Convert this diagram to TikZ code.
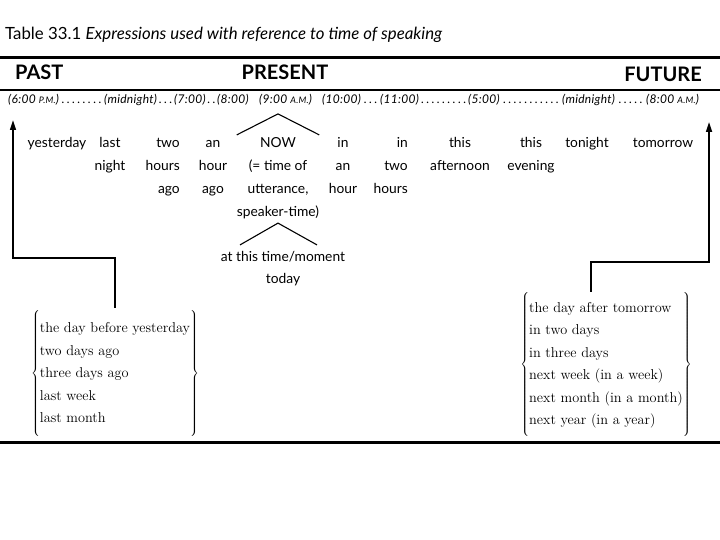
\documentclass[tikz,border=0pt]{standalone}
\usepackage{fontspec}
\setsansfont{Lato}
\usetikzlibrary{arrows.meta,calc}
\newcommand{\ampm}[1]{{\fontsize{9}{10}\selectfont #1}}
\newcommand{\bracepad}[1]{\vcenter{\hbox{\rule{0pt}{#1}}}}
\newcommand{\wordstack}[2][c]{\begin{tabular}[t]{@{}#1@{}}#2\end{tabular}}
\tikzset{
  tbl rule/.style={draw=black, line width=#1},
  tbl head/.style={font=\sffamily\bfseries\fontsize{20}{22}\selectfont, inner sep=0pt},
  tbl stamp/.style={font=\sffamily\itshape\fontsize{12}{13}\selectfont\addfontfeatures{LetterSpace=2.5}, inner sep=0pt, anchor=base west},
  tbl word/.style={font=\sffamily\fontsize{13.8}{22.7}\selectfont, inner sep=0pt, anchor=base},
  tbl list/.style={font=\rmfamily\fontsize{14.3}{22.5}\selectfont, inner sep=0pt},
  tbl arrow/.style={draw=black, line width=1.6pt, -{Triangle[length=10pt,width=6pt]}},
  tbl caret/.style={draw=black, line width=1.1pt},
}

\begin{document}
\begin{tikzpicture}[x=1pt, y=-1pt]
  \useasboundingbox[fill=white] (0,0) rectangle (720,540);
  % Caption and headings
  \node[anchor=base west, inner sep=0pt, font=\sffamily\fontsize{16.8}{19}\selectfont] (caption) at (5,40)
    {Table 33.1 \textit{Expressions used with reference to time of speaking}};
  \draw[tbl rule=2.5pt] (0,57.5) -- (720,57.5);
  \node[tbl head, anchor=base west] (past) at (15,80) {PAST};
  \node[tbl head, anchor=base] (present) at (285,80) {PRESENT};
  \node[tbl head, anchor=base east] (future) at (702,82) {FUTURE};
  \draw[tbl rule=1.5pt] (0,90) -- (720,90);

  % Clock times along the top
  \foreach \px/\stamp [count=\i] in {8/{(6:00 \ampm{P.M.})}, 104/{(midnight)}, 174/{(7:00)}, 217/{(8:00)},
      259/{(9:00 \ampm{A.M.})}, 322/{(10:00)}, 380/{(11:00)}, 468/{(5:00)}, 562/{(midnight)}, 646/{(8:00 \ampm{A.M.})}}
    \node[tbl stamp] (t\i) at (\px,104) {\stamp};
  \foreach \a/\b in {1/2,2/3,3/4,6/7,7/8,8/9,9/10}
    \path let \p1=(t\a.base east), \p2=(t\b.base west) in
      node[tbl stamp] at (\p1) {\makebox[\dimexpr\x2-\x1\relax]{\dotfill}};

  % Expressions, one column each
  \node[tbl word] (yest) at (57,148) {yesterday};
  \node[tbl word] (lastnight) at (110,148) {\wordstack{last\\night}};
  \node[tbl word, anchor=base east] (twohours) at (180,148) {\wordstack[r]{two\\hours\\ago}};
  \node[tbl word] (anhour) at (213,148) {\wordstack{an\\hour\\ago}};
  \node[tbl word] (now) at (278,148) {\wordstack{NOW\\(= time of\\utterance,\\speaker-time)}};
  \node[tbl word] (inanhour) at (343,148) {\wordstack{in\\an\\hour}};
  \node[tbl word, anchor=base east] (intwohours) at (408,148) {\wordstack[r]{in\\two\\hours}};
  \node[tbl word] (thisafternoon) at (460,148) {\wordstack{this\\afternoon}};
  \node[tbl word] (thisevening) at (531,148) {\wordstack{this\\evening}};
  \node[tbl word] (tonight) at (587,148) {tonight};
  \node[tbl word] (tomorrow) at (663,148) {tomorrow};
  \node[tbl word] (moment) at (283,261) {\wordstack{at this time/moment\\today}};

  % Carets round NOW
  \draw[tbl caret] ([yshift=-3pt]now.north west) -- ([yshift=18pt]now.north) -- ([yshift=-3pt]now.north east);
  \draw[tbl caret] ([xshift=-43pt]moment.north) -- (now.south) -- ([xshift=34pt]moment.north);

  % Braced lists
  \node[tbl list] (pastlist) at (115,373) {$\left\{\bracepad{130pt}\begin{tabular}{@{}l@{}}the day before yesterday\\two days ago\\three days ago\\last week\\last month\end{tabular}\right\}$};
  \node[tbl list] (futlist) at (606,364) {$\left\{\bracepad{144pt}\begin{tabular}{@{}l@{}}the day after tomorrow\\in two days\\in three days\\next week (in a week)\\next month (in a month)\\next year (in a year)\end{tabular}\right\}$};

  % Arrows out to past and future
  \coordinate (pastbend) at (13,258);
  \coordinate (pastend) at (13,120);
  \draw[tbl arrow] (pastlist.north) |- (pastbend) -- (pastend);
  \coordinate (futbend) at (709,262);
  \coordinate (futend) at (709,122);
  \draw[tbl arrow] ([xshift=-15pt]futlist.north) |- (futbend) -- (futend);

  \draw[tbl rule=3pt] (0,442) -- (720,442);
\end{tikzpicture}
\end{document}
